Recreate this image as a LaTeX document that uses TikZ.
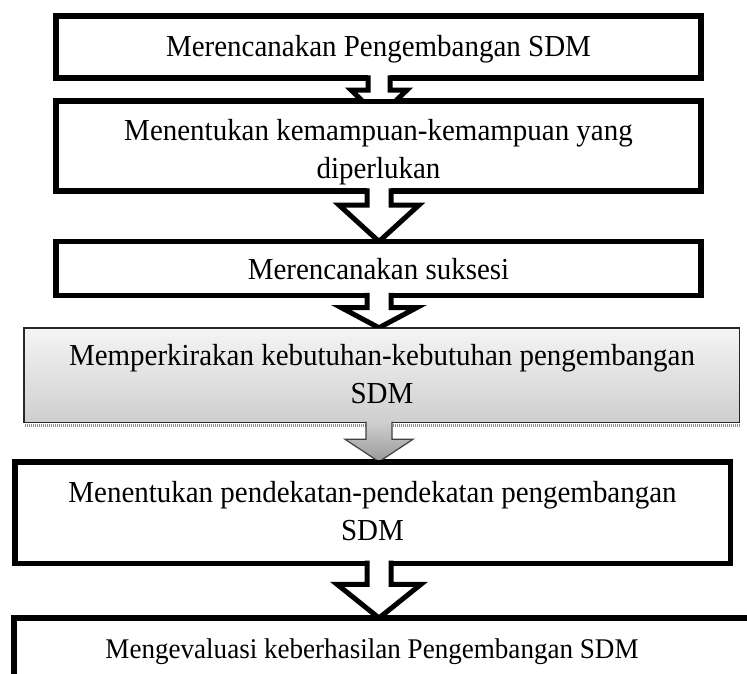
\documentclass[tikz,border=0pt]{standalone}
\usepackage{fontspec}
\setmainfont{Liberation Serif}
\newfontfamily\stepfont[FakeStretch=0.95]{Liberation Serif}
\usetikzlibrary{calc}

% Block arrow pointing down from the bottom of one box to the top of the next.
% #1 source box, #2 target box, #3 shaft half width, #4 head half width,
% #5 depth of the head base below the source, #6 tip offset below the target top,
% #7 arrow look (prefix of "<look> fill" and "<look> line"),
% #8 half border width of the source, #9 half border width of the target
\newcommand\blockdown[9]{%
  \begin{scope}
    \path (#2.north) ++(0,-#9) coordinate (cut);
    \clip (0,0) rectangle (rightedge |- cut);
    \coordinate (src) at (axis |- #1.south);
    \coordinate (tip) at ($(axis |- #2.north)+(0,#6)$);
    \path[#7 fill] ($(src)+(-#3,-#8-1)$) -- ($(src)+(-#3,#5)$) -- ($(src)+(-#4,#5)$)
      -- (tip) -- ($(src)+(#4,#5)$) -- ($(src)+(#3,#5)$) -- ($(src)+(#3,-#8-1)$) -- cycle;
    \draw[#7 line] ($(src)+(-#3,-#8)$) -- ($(src)+(-#3,#5)$) -- ($(src)+(-#4,#5)$)
      -- (tip) -- ($(src)+(#4,#5)$) -- ($(src)+(#3,#5)$) -- ($(src)+(#3,-#8)$);
  \end{scope}}

\begin{document}
\begin{tikzpicture}[x=1pt,y=-1pt,
  stepbox/.style={rectangle, draw=black, line width=5.5pt, fill=white,
    inner sep=0pt, outer sep=0pt},
  softbox/.style={rectangle, draw=black!85, line width=1.5pt,
    top color=black!4, bottom color=black!19, inner sep=0pt, outer sep=0pt},
  steptext/.style={font=\stepfont\fontsize{30.5pt}{38pt}\selectfont, anchor=base,
    align=center, inner sep=0pt},
  plain fill/.style={fill=white},
  plain line/.style={draw=black, line width=5pt, line join=miter},
  grey fill/.style={top color=black!18, bottom color=black!40},
  grey line/.style={draw=black!75, line width=1.2pt, line join=miter},
]
\useasboundingbox (0,0) rectangle (747,673);
\clip (0,0) rectangle (747,673);
\coordinate (axis) at (379,0);
\coordinate (rightedge) at (747,0);

% boxes
\node[stepbox, minimum width=645pt, minimum height=62pt] (b1) at (378.5,47) {};
\node[stepbox, minimum width=645pt, minimum height=90pt] (b2) at (378.5,146) {};
\node[stepbox, minimum width=645pt, minimum height=54pt] (b3) at (378.5,268.5) {};
\draw[black!45, line width=3pt, dash pattern=on 1pt off 1pt] (25,425) -- (741,425);
\node[softbox, minimum width=715.5pt, minimum height=94.5pt] (b4) at (381.5,375) {};
\node[stepbox, minimum width=715.5pt, minimum height=101.5pt] (b5) at (372.5,512.5) {};
\node[stepbox, minimum width=780pt, minimum height=100pt, anchor=north west] (b6) at (13.75,618) {};

% texts (the base of a two-line text is the baseline of its last line)
\node[steptext] (t1) at ($(b1.center)+(0,9.5)$) {Merencanakan Pengembangan SDM};
\node[steptext] (t2) at ($(b2.center)+(0,32)$) {Menentukan kemampuan-kemampuan yang\\diperlukan};
\node[steptext] (t3) at ($(b3.center)+(0,10.5)$) {Merencanakan suksesi};
\node[steptext] (t4) at ($(b4.center)+(0.5,28)$) {Memperkirakan kebutuhan-kebutuhan pengembangan\\SDM};
\node[steptext] (t5) at ($(b5.center)+(0,27.5)$) {Menentukan pendekatan-pendekatan pengembangan\\SDM};
\node[steptext, font=\stepfont\fontsize{28.5pt}{36pt}\selectfont] (t6) at (372,658) {Mengevaluasi keberhasilan Pengembangan SDM};

% arrows between the steps
\blockdown{b1}{b2}{11}{28}{12}{16}{plain}{2.75}{2.75}
\blockdown{b2}{b3}{12}{40}{14}{0}{plain}{2.75}{2.75}
\blockdown{b3}{b4}{12}{38}{12}{0}{plain}{2.75}{0.75}
\blockdown{b4}{b5}{13}{34}{17}{0}{grey}{0.75}{2.75}
\blockdown{b5}{b6}{12}{42}{21}{0}{plain}{2.75}{2.75}
\end{tikzpicture}
\end{document}
